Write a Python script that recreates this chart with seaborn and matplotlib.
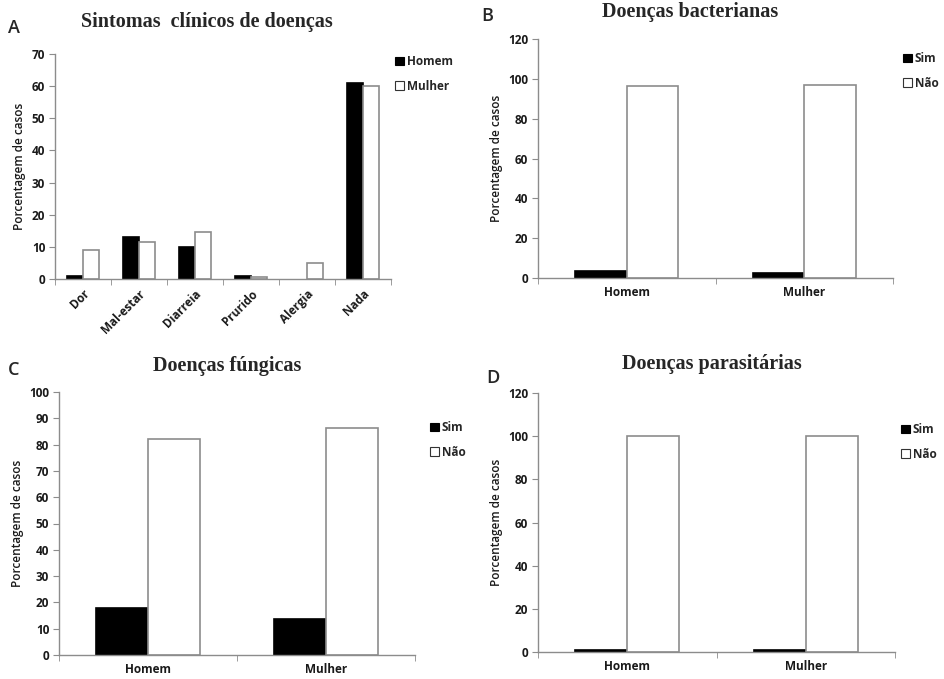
import numpy as np
import seaborn as sns
import pandas as pd
import matplotlib.pyplot as plt
from matplotlib.patches import Patch
from matplotlib.colors import to_rgba

sintomas = ['Dor', 'Mal-estar', 'Diarreia', 'Prurido', 'Alergia', 'Nada']
homem_sint = [1, 13, 10, 1, 0, 61]
mulher_sint = [9, 11.6, 14.5, 0.5, 5.1, 60]

sexo = ['Homem', 'Mulher']
bact_sim = [3.5, 2.5]
bact_nao = [96.2, 97]
fung_sim = [18, 13.5]
fung_nao = [82, 86.5]
paras_sim = [1, 1]
paras_nao = [100, 100]

sns.set_style('white')
plt.rcParams['font.family'] = ['Open Sans', 'DejaVu Sans']

GRAY = '#8c8c8c'
TXT = '#1a1a1a'
fig = plt.figure(figsize=(9.45, 6.79), dpi=100)


def long_df(cats, a, b, na, nb):
    return pd.DataFrame({'cat': cats * 2, 'val': list(a) + list(b),
                         'grp': [na] * len(cats) + [nb] * len(cats)})


def panel(rect, df, cats, names, ymax, ystep, title, title_xy, letter, letter_xy, leg_xy, rot=False):
    ax = fig.add_axes(rect)
    sns.barplot(data=df, x='cat', y='val', hue='grp', order=cats, hue_order=names,
                palette=['black', 'white'], width=0.58, edgecolor=GRAY, linewidth=1.2,
                saturation=1, legend=False, ax=ax)
    for p in ax.patches:
        if p.get_facecolor() == to_rgba('black'):
            p.set_edgecolor('black')
        if p.get_height() == 0:
            p.set_visible(False)
    ax.set_ylim(0, ymax)
    ax.set_yticks(np.arange(0, ymax + 1, ystep))
    ax.set_xlim(-0.5, len(cats) - 0.5)
    sns.despine(ax=ax)
    for s in ['left', 'bottom']:
        ax.spines[s].set_color(GRAY)
        ax.spines[s].set_linewidth(1)
    ax.set_xlabel('')
    ax.set_ylabel('Porcentagem de casos', fontsize=8.5, fontweight='semibold', color=TXT)
    ax.tick_params(axis='y', direction='out', length=4, color=GRAY, left=True,
                   labelsize=8.5, pad=3)
    ax.tick_params(axis='x', which='major', length=0, labelsize=8.5, pad=6)
    ax.set_xticks(np.arange(-0.5, len(cats)), minor=True)
    ax.tick_params(axis='x', which='minor', direction='out', length=4, color=GRAY, bottom=True)
    for t in ax.get_yticklabels() + ax.get_xticklabels():
        t.set_fontweight('bold')
        t.set_color(TXT)
    if rot:
        for t in ax.get_xticklabels():
            t.set_rotation(45)
            t.set_ha('right')
            t.set_rotation_mode('anchor')
    h = [Patch(facecolor='black', edgecolor='black', linewidth=0.8),
         Patch(facecolor='white', edgecolor='#333333', linewidth=0.8)]
    ax.legend(h, names, loc='upper left', bbox_to_anchor=leg_xy, bbox_transform=fig.transFigure,
              frameon=False, handlelength=0.75, handleheight=0.75, handletextpad=0.25,
              labelspacing=1.0, borderpad=0, borderaxespad=0,
              prop={'weight': 'bold', 'size': 8.5})
    fig.text(title_xy[0], title_xy[1], title, ha='center', va='center',
             family='Liberation Serif', fontweight='bold', fontsize=14.5)
    fig.text(letter_xy[0], letter_xy[1], letter, ha='left', va='center', fontsize=13,
             fontweight='semibold')
    return ax


def fx(px):
    return px / 945


def fy(py):
    return 1 - py / 679


panel([fx(55), fy(279), fx(391 - 55), fy(54) - fy(279)],
      long_df(sintomas, homem_sint, mulher_sint, 'Homem', 'Mulher'), sintomas, ['Homem', 'Mulher'],
      70, 10, 'Sintomas  clínicos de doenças', (fx(207), fy(22)), 'A', (fx(8), fy(28)),
      (fx(395), fy(55)), rot=True)

panel([fx(538), fy(278), fx(893 - 538), fy(39) - fy(278)],
      long_df(sexo, bact_sim, bact_nao, 'Sim', 'Não'), sexo, ['Sim', 'Não'],
      120, 20, 'Doenças bacterianas', (fx(690), fy(12)), 'B', (fx(481), fy(16)),
      (fx(903), fy(52)))

panel([fx(59), fy(655), fx(415 - 59), fy(392) - fy(655)],
      long_df(sexo, fung_sim, fung_nao, 'Sim', 'Não'), sexo, ['Sim', 'Não'],
      100, 10, 'Doenças fúngicas', (fx(227), fy(366)), 'C', (fx(8), fy(370)),
      (fx(430), fy(421)))

panel([fx(538), fy(652), fx(895 - 538), fy(393) - fy(652)],
      long_df(sexo, paras_sim, paras_nao, 'Sim', 'Não'), sexo, ['Sim', 'Não'],
      120, 20, 'Doenças parasitárias', (fx(712), fy(364)), 'D', (fx(486), fy(378)),
      (fx(901), fy(423)))

fig.savefig('out.png', dpi=100, facecolor='white')
